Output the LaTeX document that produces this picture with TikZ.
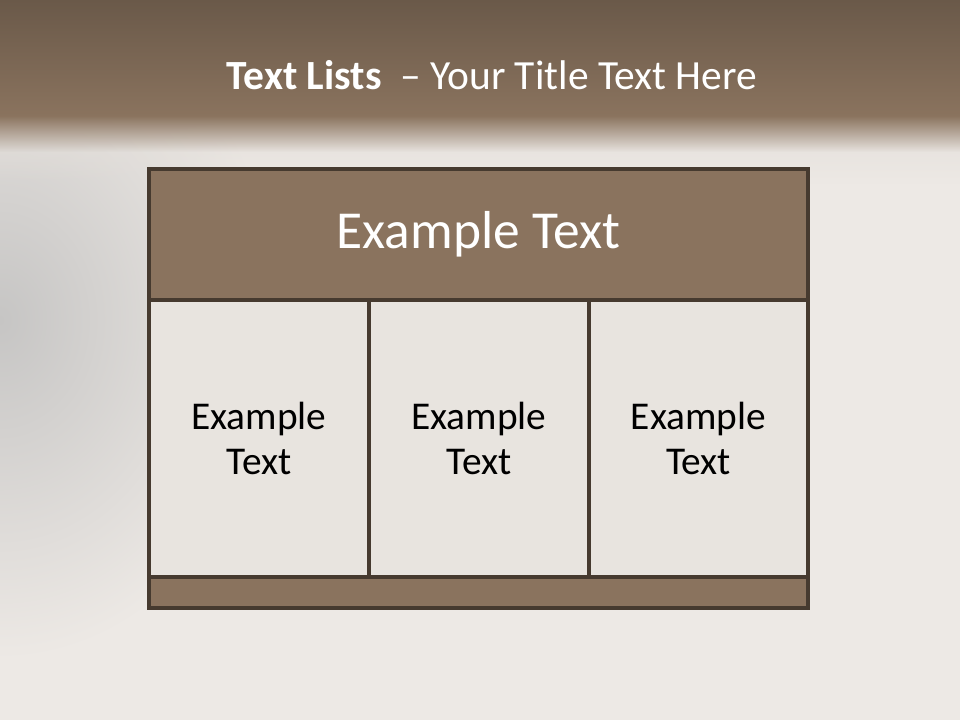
\documentclass[tikz,border=0pt]{standalone}
\usepackage{fontspec}
\setmainfont{Carlito}
\usepackage{xcolor}
\usepackage{tikz}
\usetikzlibrary{positioning, calc, fadings}
\definecolor{listbrown}{HTML}{8A735E}
\definecolor{listbrowndark}{HTML}{6A5949}
\definecolor{listedge}{HTML}{463A2F}
\definecolor{listcell}{HTML}{E8E4DF}
\definecolor{listbg}{HTML}{EDE9E5}
\definecolor{listbgfog}{HTML}{E4DFDA}
\definecolor{listgray}{HTML}{C6C5C4}

\begin{document}
\begin{tikzpicture}[
  band/.style={draw=listedge, line width=2.2pt, fill=listbrown, inner sep=0pt, outer sep=0pt, minimum width=16.475cm},
  cell/.style={draw=listedge, line width=2.2pt, fill=listcell, inner sep=0pt, outer sep=0pt, minimum width=5.5cm, minimum height=6.925cm, align=center, font=\fontsize{28}{31.5}\selectfont, text=black}
]
\useasboundingbox (0,0) rectangle (24,18);
% background
\begin{scope}
\clip (0,0) rectangle (24,18);
\fill[listbg] (0,0) rectangle (24,18);
\shade[inner color=listgray, outer color=listbg] (-7,1.5) rectangle (7,18.5);
\fill[listbgfog, path fading=south] (0,15.1) rectangle (24,13.4);
\shade[top color=listbrowndark, bottom color=listbrown] (0,18) rectangle (24,15.1);
\fill[listbrown, path fading=south] (0,15.11) rectangle (24,14.2);
\end{scope}

% title
\node[text=white, font=\fontsize{29.5}{33}\selectfont] (title) at (12.3,16.12) {\textbf{Text Lists}\ \ -- Your Title Text Here};

% table
\node[band, minimum height=3.275cm, text=white, font=\fontsize{38}{42}\selectfont] (head) at (11.9625,12.1375) {Example Text};
\node[cell] (c1) at (6.475,7.0375) {Example\\Text};
\node[cell] (c2) at (11.975,7.0375) {Example\\Text};
\node[cell, minimum width=5.475cm] (c3) at (17.4625,7.0375) {Example\\Text};
\node[band, minimum height=0.775cm] (foot) at (11.9625,3.1875) {};
\end{tikzpicture}
\end{document}
